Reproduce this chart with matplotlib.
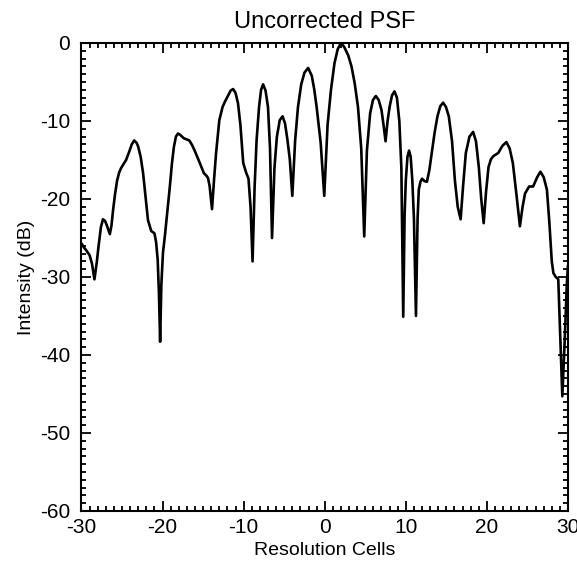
import matplotlib
matplotlib.use("Agg")
import matplotlib.pyplot as plt
from matplotlib.ticker import MultipleLocator

plt.rcParams['font.family'] = ['Liberation Sans', 'DejaVu Sans']
plt.rcParams['axes.unicode_minus'] = False

title = "Uncorrected PSF"
x_label = "Resolution Cells"
y_label = "Intensity (dB)"

x_cells = [
    -30.0, -29.7, -29.4, -29.0, -28.7, -28.4, -28.1, -27.9, -27.6, -27.35,
    -27.1, -26.9, -26.5, -26.3, -26.1, -25.85, -25.6, -25.35, -25.1, -24.8,
    -24.5, -24.1, -23.8, -23.5, -23.2, -23.0, -22.7, -22.4, -22.1, -21.8,
    -21.4, -21.0, -20.8, -20.6, -20.45, -20.3, -20.15, -19.95, -19.7, -19.4,
    -19.1, -18.85, -18.6, -18.35, -18.1, -17.8, -17.4, -16.7, -16.35, -16.0,
    -15.4, -14.9, -14.6, -14.4, -14.2, -13.9, -13.65, -13.4, -13.0, -12.6,
    -12.3, -11.9, -11.6, -11.3, -11.0, -10.7, -10.4, -10.05, -9.7, -9.4,
    -9.15, -8.9, -8.65, -8.4, -8.1, -7.85, -7.6, -7.3, -7.0, -6.75,
    -6.5, -6.2, -5.9, -5.55, -5.2, -4.9, -4.6, -4.3, -4.0, -3.65,
    -3.3, -2.9, -2.5, -2.05, -1.6, -1.3, -1.0, -0.5, -0.06, 0.35,
    0.77, 1.2, 1.6, 2.0, 2.4, 2.9, 3.3, 3.7, 4.1, 4.5,
    4.87, 5.2, 5.6, 5.95, 6.3, 6.65, 7.0, 7.25, 7.5, 7.75,
    8.0, 8.3, 8.6, 8.9, 9.2, 9.45, 9.68, 9.85, 10.0, 10.2,
    10.4, 10.6, 10.8, 11.0, 11.25, 11.45, 11.6, 11.8, 12.0, 12.3,
    12.6, 12.9, 13.2, 13.55, 13.9, 14.25, 14.6, 14.95, 15.3, 15.7,
    16.05, 16.4, 16.76, 17.05, 17.4, 17.85, 18.3, 18.65, 19.0, 19.3,
    19.6, 19.9, 20.2, 20.5, 20.8, 21.1, 21.4, 21.9, 22.4, 22.8,
    23.2, 23.65, 24.07, 24.4, 24.7, 25.2, 25.7, 26.2, 26.6, 27.0,
    27.4, 27.7, 28.0, 28.2, 28.5, 28.8, 29.05, 29.3, 29.6, 29.85,
    30.0,
]

intensity_db = [
    -25.7, -26.2, -26.6, -27.2, -28.3, -30.3, -28.0, -26.1, -23.6, -22.6,
    -22.8, -23.3, -24.5, -23.4, -21.4, -19.3, -17.6, -16.6, -16.0, -15.5,
    -15.0, -13.9, -13.0, -12.5, -12.8, -13.3, -14.6, -16.7, -19.7, -22.7,
    -24.1, -24.4, -25.5, -27.8, -32.0, -38.3, -31.0, -26.9, -24.6, -21.5,
    -18.4, -15.5, -13.3, -12.0, -11.6, -11.8, -12.2, -12.5, -13.1, -13.9,
    -15.4, -16.7, -17.0, -17.3, -18.3, -21.3, -17.5, -14.1, -9.9, -8.2,
    -7.5, -6.7, -6.1, -5.9, -6.4, -7.7, -10.5, -15.4, -16.6, -17.4,
    -21.0, -28.0, -18.5, -12.4, -8.2, -6.0, -5.3, -6.1, -8.2, -13.5,
    -25.0, -16.0, -12.0, -9.9, -9.4, -10.3, -12.4, -15.0, -19.6, -12.5,
    -8.2, -5.3, -3.8, -3.2, -4.2, -5.9, -8.2, -12.8, -19.6, -10.5,
    -6.0, -2.6, -0.8, 0.0, -0.5, -1.6, -3.0, -5.2, -8.2, -13.5,
    -24.8, -13.8, -9.0, -7.3, -6.8, -7.3, -8.6, -10.5, -12.6, -10.0,
    -8.2, -6.7, -6.2, -7.0, -10.0, -16.0, -35.1, -22.0, -17.6, -14.6,
    -13.8, -14.6, -17.6, -22.5, -35.0, -22.5, -18.8, -17.8, -17.4, -17.7,
    -17.8, -16.3, -14.1, -11.5, -9.4, -8.1, -7.65, -8.2, -9.4, -12.6,
    -17.6, -21.0, -22.6, -18.5, -14.1, -12.0, -11.4, -12.6, -15.9, -20.0,
    -23.1, -19.0, -15.9, -14.9, -14.5, -14.3, -14.1, -13.2, -12.7, -13.5,
    -15.4, -19.5, -23.5, -21.0, -19.3, -18.4, -18.4, -17.2, -16.5, -17.2,
    -18.8, -23.0, -28.0, -29.5, -30.0, -30.3, -38.0, -45.3, -38.0, -31.0,
    -28.5,
]

x_range = (-30, 30)
y_range = (-60, 0)

fig = plt.figure(figsize=(5.77, 5.65), dpi=100)
ax = fig.add_axes([0.1412, 0.0956, 0.8432, 0.8283])

ax.plot(x_cells, intensity_db, color='black', linewidth=1.9,
        solid_joinstyle='round', solid_capstyle='round')

ax.set_xlim(*x_range)
ax.set_ylim(*y_range)
ax.xaxis.set_major_locator(MultipleLocator(10))
ax.xaxis.set_minor_locator(MultipleLocator(1))
ax.yaxis.set_major_locator(MultipleLocator(10))
ax.yaxis.set_minor_locator(MultipleLocator(1))

ax.tick_params(which='both', direction='in', top=True, right=True,
               width=1.3, color='black', labelsize=15)
ax.tick_params(which='major', length=7)
ax.tick_params(which='minor', length=3.5)
ax.tick_params(axis='x', which='major', pad=5)
ax.tick_params(axis='y', which='major', pad=8)

for s in ax.spines.values():
    s.set_linewidth(1.5)

ax.set_title(title, fontsize=17, pad=11)
ax.set_xlabel(x_label, fontsize=14, labelpad=4)
ax.set_ylabel(y_label, fontsize=14, labelpad=4)

fig.savefig("out.png", dpi=100)
